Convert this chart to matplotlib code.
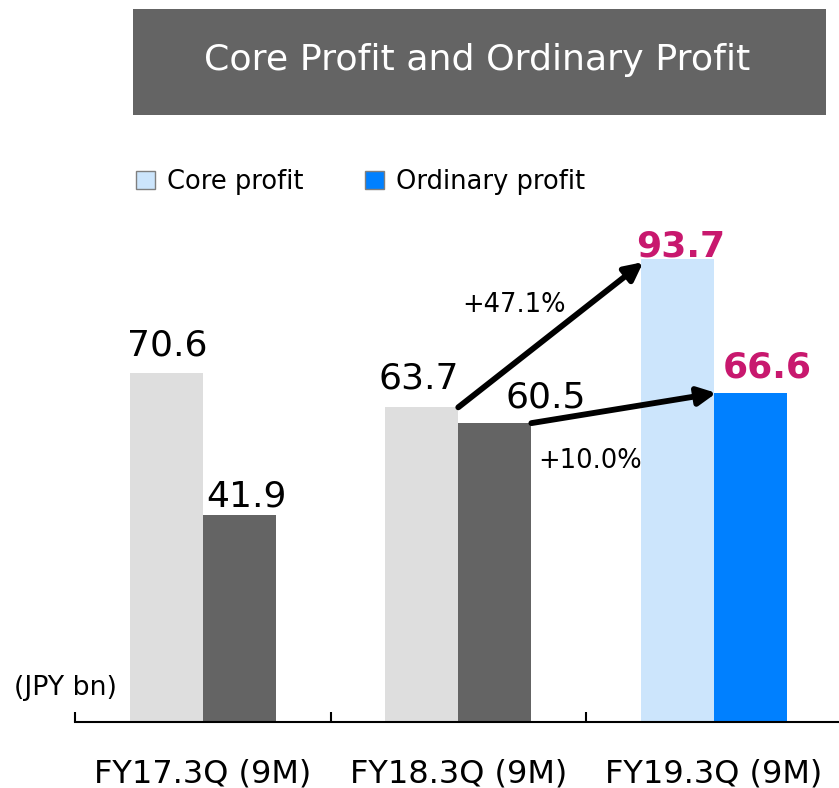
import matplotlib.pyplot as plt
import numpy as np
from matplotlib.patches import Rectangle, FancyArrowPatch

# data
categories = ['FY17.3Q (9M)', 'FY18.3Q (9M)', 'FY19.3Q (9M)']
core_profit = [70.6, 63.7, 93.7]
ordinary_profit = [41.9, 60.5, 66.6]
growth_labels = ['+47.1%', '+10.0%']

core_colors = ['#dedede', '#dedede', '#cce5fc']
ord_colors = ['#646464', '#646464', '#0080ff']
highlight = '#c8186e'

W, H = 839, 788
fig = plt.figure(figsize=(W/100, H/100), dpi=100)
plt.rcParams['font.family'] = 'DejaVu Sans'

# title box
fig.patches.append(Rectangle((133/W, 1 - 115/H), 693/W, 106/H, transform=fig.transFigure,
                             facecolor='#646464', edgecolor='none'))
fig.text(477/W, 1 - 60/H, 'Core Profit and Ordinary Profit', color='white',
         fontsize=26.2, ha='center', va='center')

ax = fig.add_axes([75/W, 66/H, 764/W, 494/H])
ax.set_xlim(-0.5, 2.49)
ax.set_ylim(0, 100)

x = np.arange(len(categories))
w = 0.286
ax.bar(x - w/2, core_profit, w, color=core_colors, zorder=2)
ax.bar(x + w/2, ordinary_profit, w, color=ord_colors, zorder=2)

# value labels (offsets in pixels)
core_off = [(1.5, 18), (-3, 19), (3, 3)]
ord_off = [(7, 9), (51, 16), (17, 15)]
for i in range(len(categories)):
    last = i == len(categories) - 1
    ax.annotate(f'{core_profit[i]:.1f}', (x[i] - w/2, core_profit[i]), xytext=core_off[i],
                textcoords='offset pixels', ha='center', va='baseline', fontsize=26,
                color=highlight if last else 'black', fontweight='bold' if last else 'normal')
    ax.annotate(f'{ordinary_profit[i]:.1f}', (x[i] + w/2, ordinary_profit[i]), xytext=ord_off[i],
                textcoords='offset pixels', ha='center', va='baseline', fontsize=26,
                color=highlight if last else 'black', fontweight='bold' if last else 'normal')

# growth arrows
for start, end in [((x[1], core_profit[1]), (x[2] - w + 0.01, core_profit[2] - 0.6)),
                   ((x[1] + w, ordinary_profit[1]), (x[2] + 0.01, ordinary_profit[2]))]:
    arr = FancyArrowPatch(start, end, arrowstyle='-|>', mutation_scale=27, lw=4.2,
                          color='black', shrinkA=0, shrinkB=0, zorder=3)
    ax.add_patch(arr)
ax.text(1.218, 83.0, growth_labels[0], ha='center', va='baseline', fontsize=18.5)
ax.text(1.516, 51.4, growth_labels[1], ha='center', va='baseline', fontsize=18.5)

# axes styling
for s in ['left', 'right', 'top']:
    ax.spines[s].set_visible(False)
ax.spines['bottom'].set_linewidth(1.5)
ax.set_yticks([])
ax.set_xticks([-0.5, 0.5, 1.5])
ax.set_xticklabels([])
ax.tick_params(axis='x', which='major', direction='in', length=7, width=1.5)
ax.set_xticks(x, minor=True)
ax.set_xticklabels(categories, minor=True, fontsize=23)
ax.tick_params(axis='x', which='minor', length=0, pad=26)
ax.patch.set_visible(False)

fig.text(65/W, 1 - 688/H, '(JPY bn)', fontsize=19.3, ha='center', va='center')

# legend
handles = [Rectangle((0, 0), 1, 1, facecolor='#cce5fc', edgecolor='#7f7f7f', lw=1),
           Rectangle((0, 0), 1, 1, facecolor='#0080ff', edgecolor='#7f7f7f', lw=1)]
fig.legend(handles, ['Core profit', 'Ordinary profit'], loc='center left',
           bbox_to_anchor=(136/W, 1 - 182/H), ncol=2, frameon=False, fontsize=18.5,
           handlelength=0.74, handleheight=0.74, handletextpad=0.46,
           columnspacing=2.4, borderpad=0, borderaxespad=0)

plt.savefig('out.png', dpi=100)
